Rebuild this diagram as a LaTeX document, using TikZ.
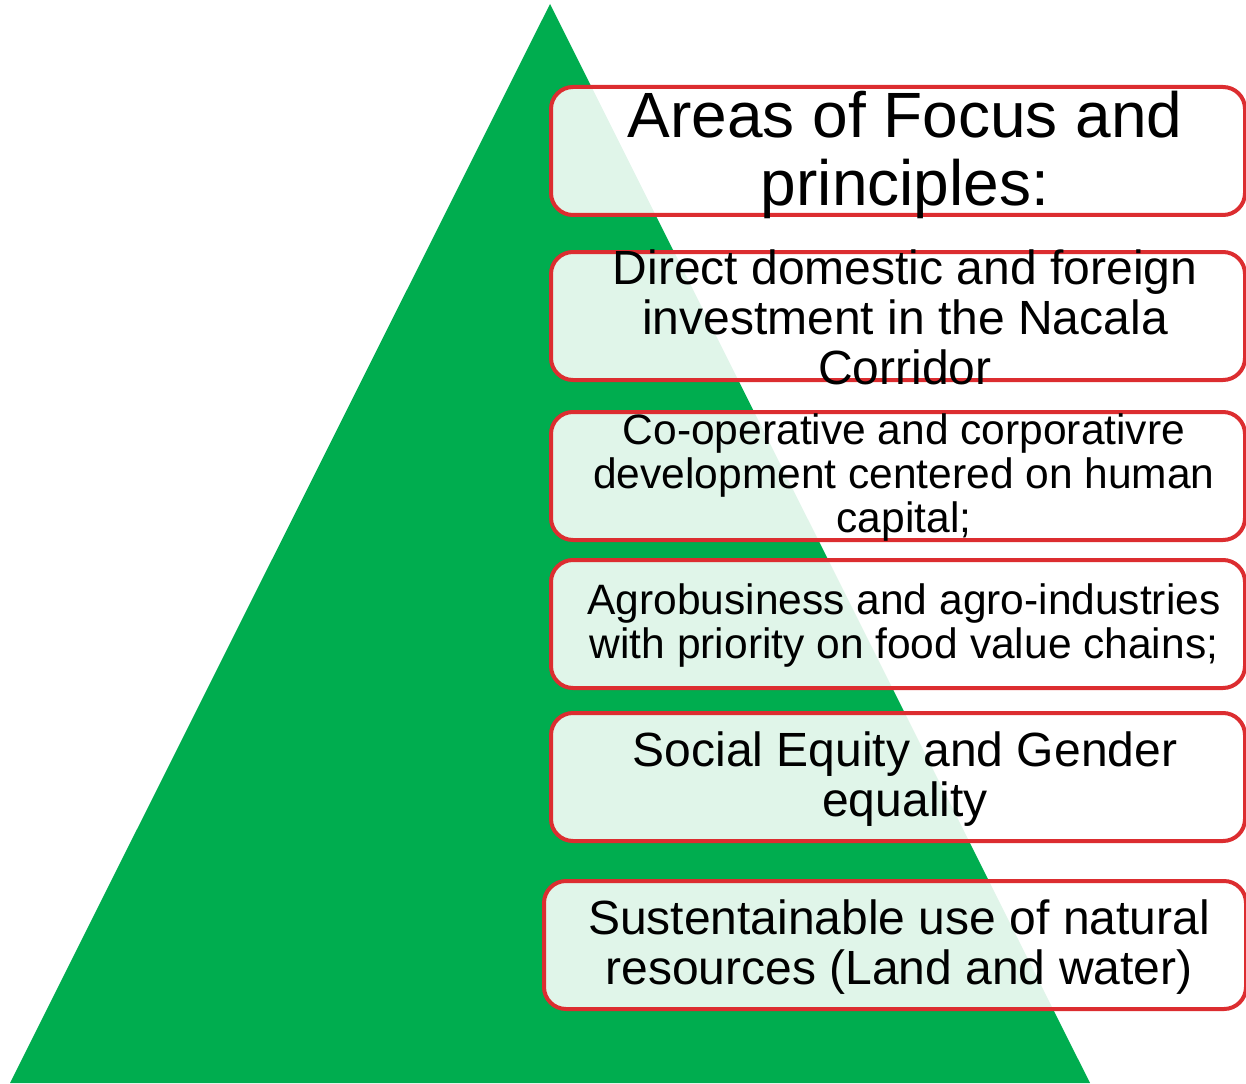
\documentclass[tikz,border=0pt]{standalone}
\usepackage{fontspec}
\setmainfont{Liberation Sans}
\definecolor{pyrgreen}{RGB}{0,173,79}
\definecolor{boxred}{RGB}{220,45,48}
\begin{document}
\begin{tikzpicture}[x=1pt, y=-1pt,
  box/.style={draw=boxred, line width=4pt, rounded corners=22pt, fill=white, fill opacity=0.88, minimum height=128pt},
  label/.style={align=center, inner sep=0pt, text=black}]
\useasboundingbox (0,0) rectangle (1246,1083);
% pyramid
\fill[pyrgreen] (550,4) -- (10,1083) -- (1090,1083) -- cycle;
% boxes
\foreach \n/\x/\y/\w in {1/898/151/694, 2/898/316/694, 3/898/476/694, 4/898/624/694, 5/898/777/694, 6/895/945/702} {
  \node[box, minimum width=\w pt] (box\n) at (\x,\y) {};
}
% texts
\node[label, font=\fontsize{64}{68}\selectfont] (focus) at (905,155) {Areas of Focus and\\principles:};
\node[label, font=\fontsize{48}{50}\selectfont] (invest) at (905,317) {Direct domestic and foreign\\investment in the Nacala\\Corridor};
\node[label, font=\fontsize{42.5}{44}\selectfont] (coop) at (904,478) {Co-operative and corporativre\\development centered on human\\capital;};
\node[label, font=\fontsize{42.5}{44}\selectfont] (agro) at (904,626) {Agrobusiness and agro-industries\\with priority on food value chains;};
\node[label, font=\fontsize{48}{50}\selectfont] (equity) at (905,779) {Social Equity and Gender\\equality};
\node[label, font=\fontsize{48}{50}\selectfont] (nature) at (899,947) {Sustentainable use of natural\\resources (Land and water)};
\end{tikzpicture}
\end{document}
